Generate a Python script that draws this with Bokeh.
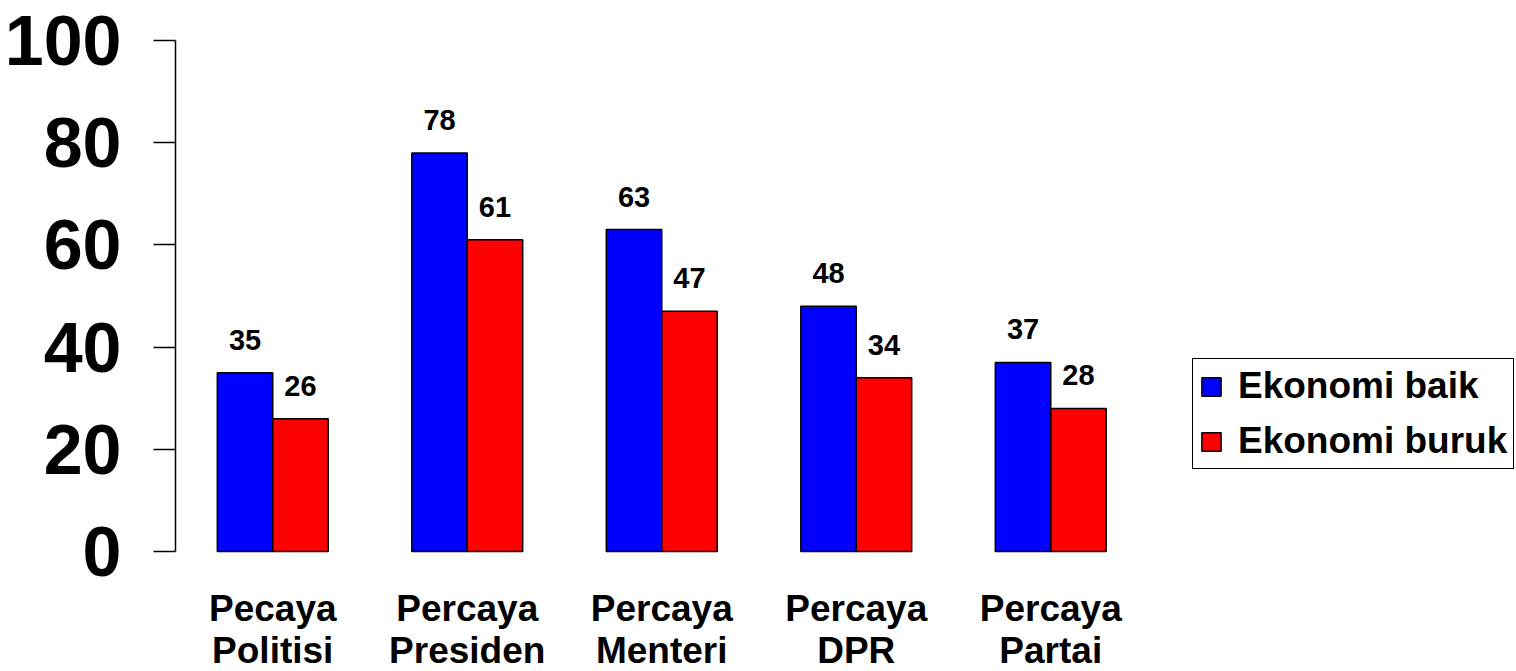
from bokeh.plotting import figure
from bokeh.models import (ColumnDataSource, Range1d, FixedTicker,
                          Legend, LegendItem)
from bokeh.transform import dodge
from bokeh.core.properties import value
from bokeh.embed import file_html
from bokeh.resources import INLINE

# Survey results: trust levels by perceived economic condition
categories = ["Pecaya\nPolitisi", "Percaya\nPresiden", "Percaya\nMenteri",
              "Percaya\nDPR", "Percaya\nPartai"]
ekonomi_baik = [35, 78, 63, 48, 37]
ekonomi_buruk = [26, 61, 47, 34, 28]
y_ticks = [0, 20, 40, 60, 80, 100]
series_names = ["Ekonomi baik", "Ekonomi buruk"]

FONT = "Liberation Sans"
BAR_W = 0.285

W, H = 1516, 671
LEFT, TOP = 175, 40          # frame offsets in px
AXIS_PX = 511                # px spanned by 0..100
SLOT_PX = 194.5              # px per category slot

frame_w = W - LEFT
frame_h = H - TOP
y_start = -100 * (frame_h - AXIS_PX) / AXIS_PX
x_end = frame_w / SLOT_PX

src = ColumnDataSource(dict(
    pos=[i + 0.5 for i in range(len(categories))],
    cat=categories,
    zero=[0] * len(categories),
    baik=ekonomi_baik,
    buruk=ekonomi_buruk,
    baik_lbl=[str(v) for v in ekonomi_baik],
    buruk_lbl=[str(v) for v in ekonomi_buruk],
))

p = figure(
    width=W, height=H,
    x_range=Range1d(0, x_end),
    y_range=Range1d(y_start, 100),
    output_backend="svg", toolbar_location=None,
    min_border_left=LEFT, min_border_right=0,
    min_border_top=TOP, min_border_bottom=0,
)
p.outline_line_color = None
p.background_fill_color = "white"
p.border_fill_color = "white"
p.xgrid.visible = False
p.ygrid.visible = False
p.xaxis.visible = False

r_baik = p.vbar(x=dodge("pos", -BAR_W / 2), top="baik",
                width=BAR_W, source=src, fill_color="#0000ff",
                line_color="black", line_width=1.5)
r_buruk = p.vbar(x=dodge("pos", BAR_W / 2), top="buruk",
                 width=BAR_W, source=src, fill_color="#ff0000",
                 line_color="black", line_width=1.5)

# value labels above each bar
label_style = dict(text_font=value(FONT), text_font_style="bold",
                   text_font_size="29px", text_color="black",
                   text_align="center", text_baseline="alphabetic",
                   y_offset=-33, source=src)
p.text(x=dodge("pos", -BAR_W / 2), y="baik", text="baik_lbl", **label_style)
p.text(x=dodge("pos", BAR_W / 2), y="buruk", text="buruk_lbl", **label_style)

# category names under the bars
p.text(x="pos", y="zero", text="cat", source=src,
       text_font=value(FONT), text_font_style="bold",
       text_font_size="37px", text_color="black",
       text_align="center", text_baseline="top",
       text_line_height=1.04, y_offset=36)

# y axis, limited to 0..100
ya = p.yaxis[0]
ya.bounds = (0, 100)
ya.ticker = FixedTicker(ticks=y_ticks)
ya.minor_tick_line_color = None
ya.major_tick_in = 0
ya.major_tick_out = 22
ya.major_tick_line_width = 1.5
ya.axis_line_width = 1.5
ya.major_tick_line_color = "black"
ya.axis_line_color = "black"
ya.major_label_standoff = 32
ya.major_label_text_font = FONT
ya.major_label_text_font_style = "bold"
ya.major_label_text_font_size = "70px"
ya.major_label_text_color = "black"

legend = Legend(
    items=[LegendItem(label=series_names[0], renderers=[r_baik]),
           LegendItem(label=series_names[1], renderers=[r_buruk])],
    location=(1192 - LEFT, 202),
    label_text_font=FONT, label_text_font_style="bold",
    label_text_font_size="37px", label_text_color="black",
    glyph_width=24, glyph_height=23, label_standoff=15,
    label_height=40, spacing=13, padding=6, margin=0,
    border_line_color="black", border_line_width=1.5,
    border_line_alpha=1.0,
    background_fill_alpha=1.0,
)
p.add_layout(legend, "center")

open("out.html", "w").write(file_html(p, INLINE))
